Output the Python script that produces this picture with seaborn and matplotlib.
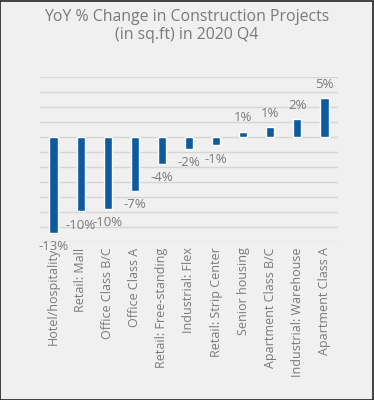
import matplotlib
matplotlib.use("Agg")
import matplotlib.pyplot as plt
import seaborn as sns
import pandas as pd
from matplotlib.patches import Rectangle

# ---- data ----
categories = ['Hotel/hospitality', 'Retail: Mall', 'Office Class B/C', 'Office Class A',
              'Retail: Free-standing', 'Industrial: Flex', 'Retail: Strip Center',
              'Senior housing', 'Apartment Class B/C', 'Industrial: Warehouse',
              'Apartment Class A']
pct_change = [-12.8, -9.9, -9.6, -7.2, -3.6, -1.6, -1.1, 0.7, 1.3, 2.4, 5.2]

df = pd.DataFrame({'category': categories, 'change': pct_change})

sns.set_style("white")
plt.rcParams['font.family'] = ['Open Sans', 'DejaVu Sans']

grey = '#7a7a7a'
bg = '#f0f0f0'
blue = '#0d5a9e'

fig = plt.figure(figsize=(3.74, 4.0), dpi=100)
fig.patch.set_facecolor(bg)
ax = fig.add_axes([40 / 374, 158 / 400, 298 / 374, 165 / 400])
ax.set_facecolor(bg)

sns.barplot(data=df, x='category', y='change', color=blue, width=0.3,
            saturation=1, ax=ax)

# value labels beyond the bar ends
for i, v in enumerate(pct_change):
    off = 10 if v > 0 else -10
    ax.annotate(f"{round(v):.0f}%", (i, v), xytext=(0, off), textcoords='offset points',
                ha='center', va='center', fontsize=9.5, color=grey)

ax.set_ylim(-14, 8)
ax.set_yticks(range(-14, 9, 2))
ax.set_yticklabels([])
ax.grid(axis='y', color='#d6d6d6', linewidth=1)
ax.set_axisbelow(True)
ax.tick_params(axis='both', length=0)
ax.tick_params(axis='x', labelrotation=90, labelsize=9, labelcolor=grey, pad=4)
ax.set_xlabel('')
ax.set_ylabel('')
ax.set_xlim(-0.5, len(categories) - 0.5)
sns.despine(ax=ax, left=True, bottom=True)

fig.text(0.5, 1 - 26 / 400, 'YoY % Change in Construction Projects\n(in sq.ft) in 2020 Q4',
         ha='center', va='center', fontsize=11.4, color=grey, linespacing=1.2)

# thin dark frame around the picture
fig.patches.append(Rectangle((0.001, 0.001), 0.997, 0.997, transform=fig.transFigure,
                             fill=False, edgecolor='#222222', linewidth=1.2))

fig.savefig('out.png', dpi=100, facecolor=bg)
